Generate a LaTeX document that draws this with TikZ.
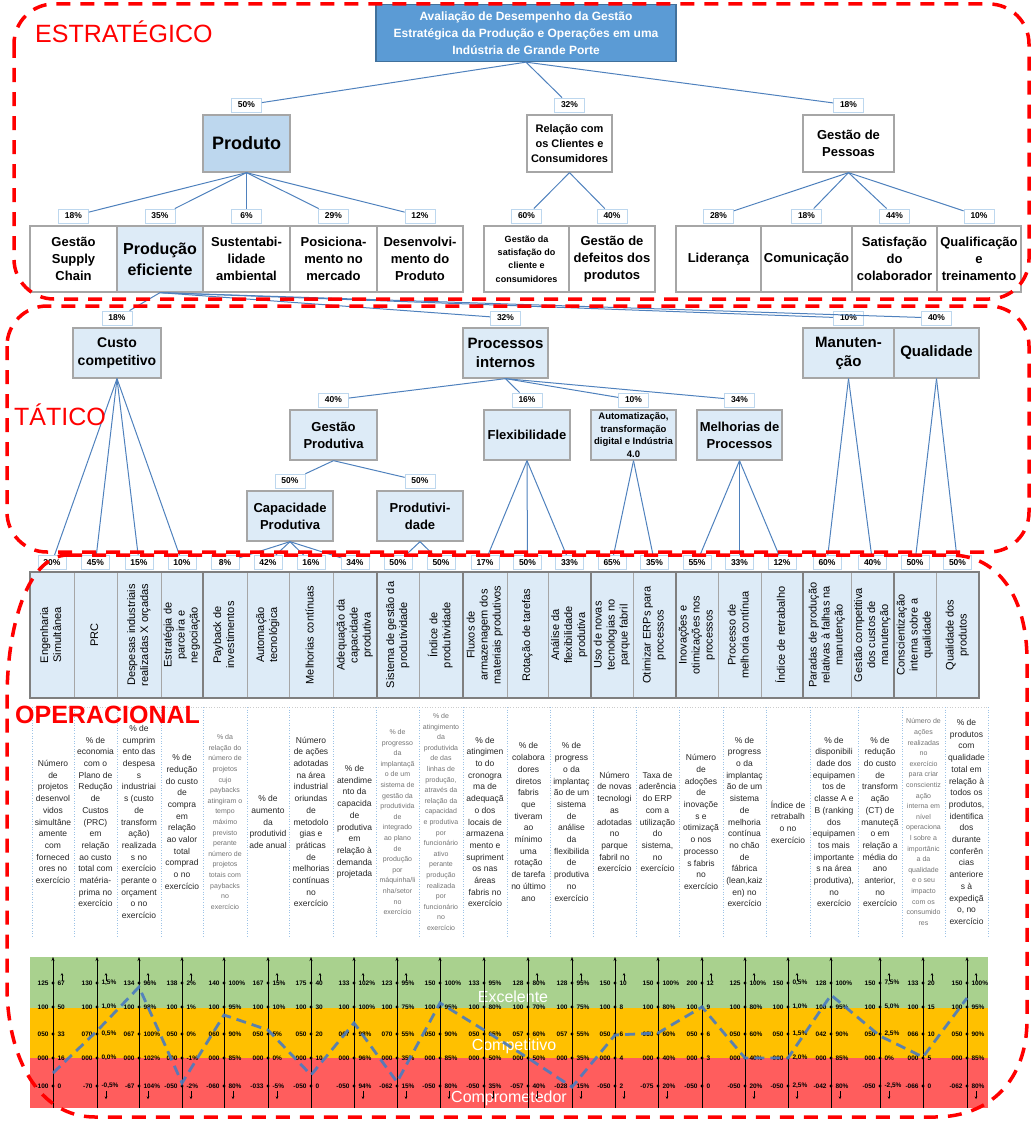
\documentclass[tikz,border=0pt]{standalone}
\usepackage{fontspec}
\setmainfont{Liberation Sans}
\usetikzlibrary{positioning,arrows.meta}

\definecolor{azulraiz}{HTML}{5B9BD5}
\definecolor{azulborda}{HTML}{41719C}
\definecolor{azulmedio}{HTML}{BDD7EE}
\definecolor{azulclaro}{HTML}{DDEBF7}
\definecolor{ligacao}{HTML}{4F81BD}
\definecolor{borda}{HTML}{A6A6A6}
\definecolor{bordaforte}{HTML}{7F7F7F}
\definecolor{verdefaixa}{HTML}{A9D18E}
\definecolor{amarelofaixa}{HTML}{FFC000}
\definecolor{vermelhofaixa}{HTML}{FF5D5D}
\definecolor{tracejado}{HTML}{4A7BC0}
\definecolor{pontilhado}{HTML}{9DC3E6}

\newcommand{\tam}[2]{\fontsize{#1}{#2}\selectfont}
\newcommand{\vtexto}[1]{\rotatebox{90}{\begin{tabular}{@{}c@{}}#1\end{tabular}}}

\begin{document}
\begin{tikzpicture}[x=1pt, y=-1pt,
  caixa/.style={draw=borda, line width=1.3pt, align=center, inner sep=1pt, font=\bfseries\tam{13}{17}},
  topo/.style={caixa, minimum height=57pt},
  folha/.style={caixa, minimum height=66pt},
  tatico/.style={caixa, fill=azulclaro, minimum height=50pt},
  pct/.style={draw=azulmedio, fill=white, line width=0.8pt, inner sep=0pt, minimum width=30pt, minimum height=14pt, font=\bfseries\tam{8.5}{10}},
  liga/.style={draw=ligacao, line width=1pt},
  cabec/.style={draw=borda, fill=azulclaro, line width=0.6pt, inner sep=0pt, minimum height=126pt, font=\tam{11}{13}},
  grupo/.style={draw=bordaforte, line width=1.8pt},
  desc/.style={align=center, inner sep=0pt, text=black!85, font=\tam{8.5}{11.7}},
  descmiuda/.style={desc, text=black!55, font=\tam{7}{10.6}},
  grade/.style={draw=pontilhado, line width=0.6pt, dotted},
  nivel/.style={text=red, anchor=base west, inner sep=0pt, font=\tam{25}{30}},
  regiao/.style={draw=red, line width=3.5pt, dash pattern=on 14pt off 10pt},
  eixo/.style={-{Stealth[length=4pt,width=3pt]}, line width=0.5pt},
  marca/.style={-{Stealth[length=2.5pt,width=2.5pt]}, line width=0.5pt},
  ponto/.style={circle, fill=black, inner sep=0pt, minimum size=3.2pt},
  valor/.style={inner sep=0pt, font=\bfseries\tam{6.5}{7}},
  faixa/.style={text=white, anchor=base, inner sep=0pt, font=\tam{16}{18}},
  tendencia/.style={draw=tracejado, line width=2.8pt, dash pattern=on 10pt off 6pt, opacity=0.9}
]
\useasboundingbox (0,0) rectangle (1033,1124);

% estrategico
\node[caixa, fill=azulraiz, draw=azulborda, text=white, font=\bfseries\tam{12}{17}, minimum width=300pt, minimum height=57pt] (aval) at (526,33) {Avaliação de Desempenho da Gestão\\Estratégica da Produção e Operações em uma\\Indústria de Grande Porte};
\node[topo, fill=azulmedio, font=\bfseries\tam{18}{20}, minimum width=87pt] (prod) at (246.5,143.5) {Produto};
\node[topo, font=\bfseries\tam{11}{15}, minimum width=85pt] (rel) at (569.5,143.5) {Relação com\\os Clientes e\\Consumidores};
\node[topo, minimum width=91pt] (pess) at (848.5,143.5) {Gestão de\\Pessoas};

\node[folha, minimum width=87pt] (supply) at (73.5,259) {Gestão\\Supply\\Chain};
\node[folha, fill=azulclaro, font=\bfseries\tam{16}{21}, minimum width=86pt] (prodef) at (160,259) {Produção\\eficiente};
\node[folha, minimum width=87pt] (sust) at (246.5,259) {Sustentabi-\\lidade\\ambiental};
\node[folha, minimum width=87pt] (posic) at (333.5,259) {Posiciona-\\mento no\\mercado};
\node[folha, minimum width=86pt] (desenv) at (420,259) {Desenvolvi-\\mento do\\Produto};
\node[folha, font=\bfseries\tam{9}{13.4}, minimum width=85pt] (satcli) at (526.5,259) {Gestão da\\satisfação do\\cliente e\\consumidores};
\node[folha, minimum width=86pt] (defeit) at (612,259) {Gestão de\\defeitos dos\\produtos};
\node[folha, minimum width=85pt] (lider) at (718.5,259) {Liderança};
\node[folha, minimum width=91pt] (comun) at (806.5,259) {Comunicação};
\node[folha, minimum width=85pt] (satcol) at (894.5,259) {Satisfação\\do\\colaborador};
\node[folha, minimum width=84pt] (qualif) at (979,259) {Qualificação\\e\\treinamento};

% tatico
\node[tatico, font=\bfseries\tam{14}{18}, minimum width=88pt] (custo) at (117,353) {Custo\\competitivo};
\node[tatico, font=\bfseries\tam{15}{19}, minimum width=85pt] (proc) at (505.5,353) {Processos\\internos};
\node[tatico, font=\bfseries\tam{15}{19}, minimum width=91pt] (manut) at (848.5,353) {Manuten-\\ção};
\node[tatico, font=\bfseries\tam{15}{19}, minimum width=85pt] (qual) at (936.5,353) {Qualidade};
\node[tatico, minimum width=87pt] (gprod) at (333.5,435) {Gestão\\Produtiva};
\node[tatico, minimum width=86pt] (flex) at (527,435) {Flexibilidade};
\node[tatico, font=\bfseries\tam{9.5}{12.7}, minimum width=85pt] (autom) at (633.5,435) {Automatização,\\transformação\\digital e Indústria\\4.0};
\node[tatico, minimum width=85pt] (melh) at (739.5,435) {Melhorias de\\Processos};
\node[tatico, minimum width=86pt] (capac) at (290,516) {Capacidade\\Produtiva};
\node[tatico, minimum width=86pt] (produt) at (420,516) {Produtivi-\\dade};

% operacional: cabecalho
\node[cabec, minimum width=44pt] (c1) at (52,635) {\vtexto{Engenharia\\Simultânea}};
\node[cabec, minimum width=43pt] (c2) at (95.5,635) {\vtexto{PRC}};
\node[cabec, minimum width=44pt] (c3) at (139,635) {\vtexto{Despesas industriais\\realizadas X orçadas}};
\node[cabec, minimum width=42pt] (c4) at (182,635) {\vtexto{Estratégia de\\parceira e\\negociação}};
\node[cabec, minimum width=44pt] (c5) at (225,635) {\vtexto{Payback de\\investimentos}};
\node[cabec, minimum width=42pt] (c6) at (268,635) {\vtexto{Automação\\tecnológica}};
\node[cabec, minimum width=44pt] (c7) at (311,635) {\vtexto{Melhorias contínuas}};
\node[cabec, minimum width=44pt] (c8) at (355,635) {\vtexto{Adequação da\\capacidade\\produtiva}};
\node[cabec, minimum width=42pt] (c9) at (398,635) {\vtexto{Sistema de gestão da\\produtividade}};
\node[cabec, minimum width=44pt] (c10) at (441,635) {\vtexto{Índice de\\produtividade}};
\node[cabec, minimum width=44pt] (c11) at (485,635) {\vtexto{Fluxos de\\armazenagem dos\\materiais produtivos}};
\node[cabec, minimum width=41pt] (c12) at (527.5,635) {\vtexto{Rotação de tarefas}};
\node[cabec, minimum width=43pt] (c13) at (569.5,635) {\vtexto{Análise da\\flexibilidade\\produtiva}};
\node[cabec, minimum width=42pt] (c14) at (612,635) {\vtexto{Uso de novas\\tecnologias no\\parque fabril}};
\node[cabec, minimum width=43pt] (c15) at (654.5,635) {\vtexto{Otimizar ERPs para\\processos}};
\node[cabec, minimum width=42pt] (c16) at (697,635) {\vtexto{Inovações e\\otimizações nos\\processos}};
\node[cabec, minimum width=43pt] (c17) at (739.5,635) {\vtexto{Processo de\\melhoria contínua}};
\node[cabec, minimum width=42pt] (c18) at (782,635) {\vtexto{Índice de retrabalho}};
\node[cabec, minimum width=48pt] (c19) at (827,635) {\vtexto{Paradas de produção\\relativas à falhas na\\manutenção}};
\node[cabec, minimum width=43pt] (c20) at (872.5,635) {\vtexto{Gestão competitiva\\dos custos de\\manutenção}};
\node[cabec, minimum width=42pt] (c21) at (915,635) {\vtexto{Conscientização\\interna sobre a\\qualidade}};
\node[cabec, minimum width=43pt] (c22) at (957.5,635) {\vtexto{Qualidade dos\\produtos}};
\draw[grupo] (c1.north west) rectangle (c22.south east);
\foreach \i in {4,8,10,13,15,18,20}
  \draw[grupo] (c\i.north east) -- (c\i.south east);

% percentuais
\node[pct, above=2pt of prod] (p-prod) {50\%};
\node[pct, above=2pt of rel] (p-rel) {32\%};
\node[pct, above=2pt of pess] (p-pess) {18\%};
\node[pct, above=2pt of supply] (p-supply) {18\%};
\node[pct, above=2pt of prodef] (p-prodef) {35\%};
\node[pct, above=2pt of sust] (p-sust) {6\%};
\node[pct, above=2pt of posic] (p-posic) {29\%};
\node[pct, above=2pt of desenv] (p-desenv) {12\%};
\node[pct, above=2pt of satcli] (p-satcli) {60\%};
\node[pct, above=2pt of defeit] (p-defeit) {40\%};
\node[pct, above=2pt of lider] (p-lider) {28\%};
\node[pct, above=2pt of comun] (p-comun) {18\%};
\node[pct, above=2pt of satcol] (p-satcol) {44\%};
\node[pct, above=2pt of qualif] (p-qualif) {10\%};
\node[pct, above=2pt of custo] (p-custo) {18\%};
\node[pct, above=2pt of proc] (p-proc) {32\%};
\node[pct, above=2pt of manut] (p-manut) {10\%};
\node[pct, above=2pt of qual] (p-qual) {40\%};
\node[pct, above=2pt of gprod] (p-gprod) {40\%};
\node[pct, above=2pt of flex] (p-flex) {16\%};
\node[pct, above=2pt of autom] (p-autom) {10\%};
\node[pct, above=2pt of melh] (p-melh) {34\%};
\node[pct, above=2pt of capac] (p-capac) {50\%};
\node[pct, above=2pt of produt] (p-produt) {50\%};
\foreach \i/\v in {1/30,2/45,3/15,4/10,5/8,6/42,7/16,8/34,9/50,10/50,11/17,
                   12/50,13/33,14/65,15/35,16/55,17/33,18/12,19/60,20/40,21/50,22/50}
  \node[pct, minimum width=28pt, above=2pt of c\i] (q\i) {\v\%};

% ligacoes
\draw[liga] (aval.south) -- (p-prod);
\draw[liga] (aval.south) -- (p-rel);
\draw[liga] (aval.south) -- (p-pess);
\foreach \n in {supply,prodef,sust,posic,desenv}
  \draw[liga] (prod.south) -- (p-\n);
\draw[liga] (rel.south) -- (p-satcli);
\draw[liga] (rel.south) -- (p-defeit);
\foreach \n in {lider,comun,satcol,qualif}
  \draw[liga] (pess.south) -- (p-\n);
\foreach \n in {custo,proc,manut,qual}
  \draw[liga] (prodef.south) -- (p-\n);
\foreach \n in {gprod,flex,autom,melh}
  \draw[liga] (proc.south) -- (p-\n);
\draw[liga] (gprod.south) -- (p-capac);
\draw[liga] (gprod.south) -- (p-produt);
\foreach \i in {1,...,4} \draw[liga] (custo.south) -- (q\i);
\foreach \i in {5,...,8} \draw[liga] (capac.south) -- (q\i);
\foreach \i in {9,10} \draw[liga] (produt.south) -- (q\i);
\foreach \i in {11,12,13} \draw[liga] (flex.south) -- (q\i);
\foreach \i in {14,15} \draw[liga] (autom.south) -- (q\i);
\foreach \i in {16,17,18} \draw[liga] (melh.south) -- (q\i);
\foreach \i in {19,20} \draw[liga] (manut.south) -- (q\i);
\foreach \i in {21,22} \draw[liga] (qual.south) -- (q\i);

% indicadores
\draw[draw=black!20, line width=0.6pt, dotted] (32,707) -- (988,707);
\foreach \x in {32,74,117,161,203,247,289,333,376,419,463,507,550,593,636,679,723,766,810,858,902,945,988}
  \draw[grade] (\x,707) -- (\x,937);
\node[desc] (d1) at (53,822) {Número\\de\\projetos\\desenvol\\vidos\\simultâne\\amente\\com\\forneced\\ores no\\exercício};
\node[desc] (d2) at (95.5,822) {\% de\\economia\\com o\\Plano de\\Redução\\de\\Custos\\(PRC)\\em\\relação\\ao custo\\total com\\matéria-\\prima no\\exercício};
\node[desc] (d3) at (139,822) {\% de\\cumprim\\ento das\\despesa\\s\\industriai\\s (custo\\de\\transform\\ação)\\realizada\\s no\\exercício\\perante o\\orçament\\o no\\exercício};
\node[desc] (d4) at (182,822) {\% de\\redução\\do custo\\de\\compra\\em\\relação\\ao valor\\total\\comprad\\o no\\exercício};
\node[descmiuda] (d5) at (225,822) {\% da\\relação do\\número de\\projetos\\cujo\\paybacks\\atingiram o\\tempo\\máximo\\previsto\\perante\\número de\\projetos\\totais com\\paybacks\\no\\exercício};
\node[desc] (d6) at (268,822) {\% de\\aumento\\da\\produtivid\\ade anual};
\node[desc] (d7) at (311,822) {Número\\de ações\\adotadas\\na área\\industrial\\oriundas\\de\\metodolo\\gias e\\práticas\\de\\melhorias\\contínuas\\no\\exercício};
\node[desc] (d8) at (354.5,822) {\% de\\atendime\\nto da\\capacida\\de\\produtiva\\em\\relação à\\demanda\\projetada};
\node[descmiuda] (d9) at (397.5,822) {\% de\\progresso\\da\\implantaçã\\o de um\\sistema de\\gestão da\\produtivida\\de\\integrado\\ao plano\\de\\produção\\por\\máquinha/li\\nha/setor\\no\\exercício};
\node[descmiuda] (d10) at (441,822) {\% de\\atingimento\\da\\produtivida\\de das\\linhas de\\produção,\\através da\\relação da\\capacidad\\e produtiva\\por\\funcionário\\ativo\\perante\\produção\\realizada\\por\\funcionário\\no\\exercício};
\node[desc] (d11) at (485,822) {\% de\\atingimen\\to do\\cronogra\\ma de\\adequaçã\\o dos\\locais de\\armazena\\mento e\\supriment\\os nas\\áreas\\fabris no\\exercício};
\node[desc] (d12) at (528.5,822) {\% de\\colabora\\dores\\diretos\\fabris\\que\\tiveram\\ao\\mínimo\\uma\\rotação\\de tarefa\\no último\\ano};
\node[desc] (d13) at (571.5,822) {\% de\\progress\\o da\\implantaç\\ão de um\\sistema\\de\\análise\\da\\flexibilida\\de\\produtiva\\no\\exercício};
\node[desc] (d14) at (614.5,822) {Número\\de novas\\tecnologi\\as\\adotadas\\no\\parque\\fabril no\\exercício};
\node[desc] (d15) at (657.5,822) {Taxa de\\aderência\\do ERP\\com a\\utilização\\do\\sistema,\\no\\exercício};
\node[desc] (d16) at (701,822) {Número\\de\\adoções\\de\\inovaçõe\\s e\\otimizaçã\\o nos\\processo\\s fabris\\no\\exercício};
\node[desc] (d17) at (744.5,822) {\% de\\progress\\o da\\implantaç\\ão de um\\sistema\\de\\melhoria\\contínua\\no chão\\de\\fábrica\\(lean,kaiz\\en) no\\exercício};
\node[desc] (d18) at (788,822) {Índice de\\retrabalh\\o no\\exercício};
\node[desc] (d19) at (834,822) {\% de\\disponibili\\dade dos\\equipamen\\tos de\\classe A e\\B (ranking\\dos\\equipamen\\tos mais\\importante\\s na área\\produtiva),\\no\\exercício};
\node[desc] (d20) at (880,822) {\% de\\redução\\do custo\\de\\transform\\ação\\(CT) de\\manuteçã\\o em\\relação a\\média do\\ano\\anterior,\\no\\exercício};
\node[descmiuda] (d21) at (923.5,822) {Número de\\ações\\realizadas\\no\\exercício\\para criar\\conscientiz\\ação\\interna em\\nível\\operaciona\\l sobre a\\importânic\\a da\\qualidade\\e o seu\\impacto\\com os\\consumido\\res};
\node[desc] (d22) at (966.5,822) {\% de\\produtos\\com\\qualidade\\total em\\relação à\\todos os\\produtos,\\identifica\\dos\\durante\\conferên\\cias\\anteriore\\s à\\expediçã\\o, no\\exercício};

% escala de desempenho
\fill[verdefaixa] (30,957) rectangle (988,1008);
\fill[amarelofaixa] (30,1008) rectangle (988,1058);
\fill[vermelhofaixa] (30,1058) rectangle (988,1108);
\node[faixa] (exc) at (513,1002) {Excelente};
\node[faixa] (comp) at (514,1050) {Competitivo};
\node[faixa] (compr) at (509,1102) {Comprometedor};
\foreach \x in {53,97,139,182,224,268,311,354,397,440,484,528,572,615,658,702,745,788,831,880,923,967}
  \draw[eixo] (\x,1108) -- (\x,957);
% linha 1
\foreach \x/\esq/\dir in {53/125/67, 97/130/{1,5\%}, 139/134/96\%, 182/138/2\%, 224/140/100\%, 268/167/15\%,
    311/175/40, 354/133/102\%, 397/123/95\%, 440/150/100\%, 484/133/95\%, 528/128/80\%, 572/128/95\%,
    615/150/10, 658/150/100\%, 702/200/12, 745/125/100\%, 788/150/{0,5\%}, 831/128/100\%,
    880/150/{7,5\%}, 923/133/20, 967/150/100\%}{
  \node[ponto] (k\x-1) at (\x,983) {};
  \node[valor, left=2.5pt of k\x-1] (e\x-1) {\esq};
  \node[valor, right=2.5pt of k\x-1] (r\x-1) {\dir};
}
% linha 2
\foreach \x/\esq/\dir in {53/100/50, 97/100/{1,0\%}, 139/100/98\%, 182/100/1\%, 224/100/95\%, 268/100/10\%,
    311/100/30, 354/100/100\%, 397/100/75\%, 440/100/95\%, 484/100/80\%, 528/100/70\%, 572/100/75\%,
    615/100/8, 658/100/80\%, 702/100/9, 745/100/80\%, 788/100/{1,0\%}, 831/100/95\%,
    880/100/{5,0\%}, 923/100/15, 967/100/95\%}{
  \node[ponto] (k\x-2) at (\x,1007) {};
  \node[valor, left=2.5pt of k\x-2] (e\x-2) {\esq};
  \node[valor, right=2.5pt of k\x-2] (r\x-2) {\dir};
}
% linha 3
\foreach \x/\esq/\dir in {53/050/33, 97/070/{0,5\%}, 139/067/100\%, 182/050/0\%, 224/060/90\%, 268/050/5\%,
    311/050/20, 354/067/98\%, 397/070/55\%, 440/050/90\%, 484/050/65\%, 528/057/60\%, 572/057/55\%,
    615/050/6, 658/050/60\%, 702/050/6, 745/050/60\%, 788/050/{1,5\%}, 831/042/90\%,
    880/050/{2,5\%}, 923/066/10, 967/050/90\%}{
  \node[ponto] (k\x-3) at (\x,1034) {};
  \node[valor, left=2.5pt of k\x-3] (e\x-3) {\esq};
  \node[valor, right=2.5pt of k\x-3] (r\x-3) {\dir};
}
% linha 4
\foreach \x/\esq/\dir in {53/000/16, 97/000/{0,0\%}, 139/000/102\%, 182/000/-1\%, 224/000/85\%, 268/000/0\%,
    311/000/10, 354/000/96\%, 397/000/35\%, 440/000/85\%, 484/000/50\%, 528/000/50\%, 572/000/35\%,
    615/000/4, 658/000/40\%, 702/000/3, 745/000/40\%, 788/000/{2,0\%}, 831/000/85\%,
    880/000/0\%, 923/000/5, 967/000/85\%}{
  \node[ponto] (k\x-4) at (\x,1058) {};
  \node[valor, left=2.5pt of k\x-4] (e\x-4) {\esq};
  \node[valor, right=2.5pt of k\x-4] (r\x-4) {\dir};
}
% linha 5
\foreach \x/\esq/\dir in {53/-100/0, 97/-70/{-0,5\%}, 139/-67/104\%, 182/-050/-2\%, 224/-060/80\%, 268/-033/-5\%,
    311/-050/0, 354/-050/94\%, 397/-062/15\%, 440/-050/80\%, 484/-050/35\%, 528/-057/40\%, 572/-028/15\%,
    615/-050/2, 658/-075/20\%, 702/-050/0, 745/-050/20\%, 788/-050/{2,5\%}, 831/-042/80\%,
    880/-050/{-2,5\%}, 923/-066/0, 967/-062/80\%}{
  \node[ponto] (k\x-5) at (\x,1086) {};
  \node[valor, left=2.5pt of k\x-5] (e\x-5) {\esq};
  \node[valor, right=2.5pt of k\x-5] (r\x-5) {\dir};
}
\foreach \x in {53,97,139,182,268,311,354,397,528,572,615,702,745,788,880,923,967}
  \draw[marca] (\x+9,981) -- (\x+9,973);
\foreach \x in {97,139,182,224,268,354,397,440,484,528,572,615,658,745,788,831,880,967}
  \draw[marca] (\x+9,1091) -- (\x+9,1099);
\draw[tendencia] (53,1073) -- (97,1031) -- (139,987) -- (182,1083) -- (224,1015) -- (268,1030)
  -- (311,1075) -- (354,1023) -- (397,1082) -- (440,1003) -- (484,1030) -- (528,1058) -- (572,1087)
  -- (615,1035) -- (658,1033) -- (702,1007) -- (745,1058) -- (788,1058) -- (831,995) -- (880,1036)
  -- (923,1057) -- (967,998);

% niveis
\draw[regiao, rounded corners=40pt] (14,4) rectangle (1029,299);
\draw[regiao, rounded corners=40pt] (7,306) rectangle (1029,552);
\draw[regiao] (68,555) -- (950,555) .. controls (1000,555) and (1027,600) .. (1027,660)
  -- (1027,1020) .. controls (1027,1080) and (990,1117) .. (935,1117)
  -- (95,1117) .. controls (40,1117) and (7,1060) .. (7,985)
  -- (7,700) .. controls (7,620) and (30,555) .. (68,555) -- cycle;
\node[nivel] (n-est) at (35,43) {ESTRATÉGICO};
\node[nivel] (n-tat) at (14,425) {TÁTICO};
\node[nivel, font=\bfseries\tam{25}{30}] (n-ope) at (15,723) {OPERACIONAL};
\end{tikzpicture}
\end{document}
